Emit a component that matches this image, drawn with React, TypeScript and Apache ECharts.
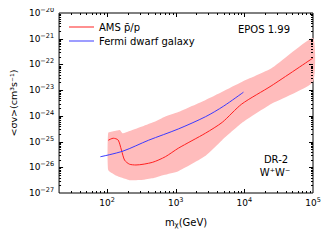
import React, { useEffect, useRef } from "react";
import * as echarts from "echarts";

// AMS pbar/p limit (red line)
const amsMass = [104, 123, 145, 162, 180, 212, 264, 455, 706, 1090, 2730, 4770, 9160, 24500, 100000];
const amsSigma = [1.12e-25, 1.35e-25, 1.15e-25, 4.68e-26, 1.9e-26, 1.32e-26, 1.23e-26, 1.55e-26, 2.57e-26, 5.5e-26, 2.14e-25, 5.62e-25, 2.88e-24, 1.45e-23, 1.78e-22];

// Fermi dwarf galaxy limit (blue line)
const fermiMass = [80, 171, 400, 1090, 2730, 5000, 9700];
const fermiSigma = [2.57e-26, 4.27e-26, 1.12e-25, 3.09e-25, 9.33e-25, 2.4e-24, 8.32e-24];

// AMS uncertainty band
const bandMass = [104, 130, 153, 169, 212, 347, 480, 670, 1090, 2730, 4770, 9160, 24500, 100000];
const bandUpper = [2.19e-25, 2.57e-25, 2.82e-25, 2.09e-25, 2.57e-25, 4.17e-25, 5.75e-25, 8.91e-25, 1.41e-24, 4.17e-24, 8.71e-24, 2.09e-23, 6.92e-23, 1.07e-21];
const bandLower = [7.76e-27, 5.01e-27, 4.17e-27, 3.8e-27, 3.16e-27, 3.31e-27, 3.8e-27, 5.01e-27, 7.08e-27, 2.82e-26, 1.15e-25, 5.25e-25, 2.88e-24, 2.09e-23];

const xMin = 20;
const xMax = 1e5;
// y axis range exponents (10^-27 .. 10^-20)
const yExpMin = -27;
const yExpMax = -20;
const xDecades = [1, 2, 3, 4];

const FONT = "DejaVu Sans";
// the chart works on values scaled by 10^27 to avoid rounding of tiny numbers
const Y_SCALE = 1e27;
const sy = (v: number) => v * Y_SCALE;

function expLabel(v: number, offset: number) {
  const e = Math.log10(v);
  const r = Math.round(e);
  if (Math.abs(e - r) > 1e-6) return "";
  return `{b|10}{s|${String(r + offset).replace("-", "\u2212")}}`;
}

const richSup = {
  b: { fontSize: 9, fontFamily: FONT, color: "#000", lineHeight: 14 },
  s: { fontSize: 6.5, fontFamily: FONT, color: "#000", padding: [0, 0, 6, 0], lineHeight: 8 },
};

export default function App() {
  const ref = useRef<HTMLDivElement>(null);
  useEffect(() => {
    if (!ref.current) return;
    const chart = echarts.init(ref.current, undefined, { renderer: "svg" });

    const yMin = sy(Math.pow(10, yExpMin));
    const yMax = sy(Math.pow(10, yExpMax));

    const majorX: number[] = [];
    const minorX: number[] = [];
    xDecades.forEach((d) => {
      const base = Math.pow(10, d);
      if (d > 1) majorX.push(base);
      for (let k = 2; k <= 9; k++) {
        const v = k * base;
        if (v > xMin && v < xMax) minorX.push(v);
      }
    });
    const majorY: number[] = [];
    const minorY: number[] = [];
    for (let d = 0; d < yExpMax - yExpMin; d++) {
      const base = Math.pow(10, d);
      if (d > 0) majorY.push(base);
      for (let k = 2; k <= 9; k++) minorY.push(k * base);
    }

    const option: any = {
      animation: false,
      textStyle: { fontFamily: FONT },
      grid: {
        left: 53,
        right: 19,
        top: 13,
        bottom: 49,
        containLabel: false,
        show: true,
        borderColor: "#000",
        borderWidth: 1,
        backgroundColor: "transparent",
      },
      legend: {
        orient: "vertical",
        left: 64,
        top: 17,
        itemWidth: 25,
        itemHeight: 10,
        itemGap: 4,
        data: [
          { name: "AMS p\u0304/p", icon: "path://M0,4.5L25,4.5L25,5.5L0,5.5Z" },
          { name: "Fermi dwarf galaxy", icon: "path://M0,4.5L25,4.5L25,5.5L0,5.5Z" },
        ],
        textStyle: { fontSize: 10, fontFamily: FONT, color: "#000" },
      },
      xAxis: {
        type: "log",
        logBase: 10,
        min: xMin,
        max: xMax,
        splitLine: { show: false },
        axisLine: { show: false },
        axisTick: { show: false },
        name: "{m|m}{c|\u03c7}{m|(GeV)}",
        nameLocation: "middle",
        nameGap: 22,
        nameTextStyle: {
          rich: {
            m: { fontSize: 10, fontFamily: FONT, color: "#000", lineHeight: 14 },
            c: { fontSize: 7, fontFamily: FONT, color: "#000", padding: [5, 0, 0, 0], lineHeight: 8 },
          },
        },
        axisLabel: {
          interval: 0,
          showMinLabel: true,
          showMaxLabel: true,
          margin: 3,
          formatter: (v: number) => expLabel(v, 0),
          rich: richSup,
        },
      },
      yAxis: {
        type: "log",
        logBase: 10,
        min: yMin,
        max: yMax,
        splitLine: { show: false },
        axisLine: { show: false },
        axisTick: { show: false },
        name: "<\u03c3v>(cm\u00b3s\u207b\u00b9)",
        nameLocation: "middle",
        nameGap: 38,
        nameTextStyle: { fontSize: 9.5, fontFamily: FONT, color: "#000" },
        axisLabel: {
          interval: 0,
          showMinLabel: true,
          showMaxLabel: true,
          margin: 5,
          formatter: (v: number) => expLabel(v, yExpMin),
          rich: richSup,
        },
      },
      series: [
        {
          type: "custom",
          silent: true,
          z: 1,
          data: bandMass.map((m, i) => [m, sy(bandUpper[i])]),
          renderItem: (params: any, api: any) => {
            if (params.dataIndex !== 0) return null;
            const pts: number[][] = [];
            for (let i = 0; i < bandMass.length; i++) pts.push(api.coord([bandMass[i], sy(bandUpper[i])]));
            for (let i = bandMass.length - 1; i >= 0; i--) pts.push(api.coord([bandMass[i], sy(bandLower[i])]));
            return { type: "polygon", shape: { points: pts, smooth: 0.15 }, style: { fill: "#ffbcbc", stroke: "none" } };
          },
        },
        {
          name: "AMS p\u0304/p",
          type: "line",
          z: 3,
          symbol: "none",
          smooth: 0.25,
          lineStyle: { color: "#ff2020", width: 1 },
          itemStyle: { color: "#ff2020" },
          data: amsMass.map((m, i) => [m, sy(amsSigma[i])]),
        },
        {
          name: "Fermi dwarf galaxy",
          type: "line",
          z: 3,
          symbol: "none",
          smooth: 0.3,
          lineStyle: { color: "#3a3aff", width: 1 },
          itemStyle: { color: "#3a3aff" },
          data: fermiMass.map((m, i) => [m, sy(fermiSigma[i])]),
        },
        {
          type: "custom",
          silent: true,
          z: 5,
          data: [[100, 10]],
          renderItem: (params: any, api: any) => {
            const children: any[] = [];
            const st = { stroke: "#000", lineWidth: 1 };
            const add = (x1: number, y1: number, x2: number, y2: number) =>
              children.push({ type: "line", shape: { x1, y1, x2, y2 }, style: st });
            const yb = api.coord([xMin, yMin])[1];
            const yt = api.coord([xMin, yMax])[1];
            const xl = api.coord([xMin, yMin])[0];
            const xr = api.coord([xMax, yMin])[0];
            const vx = (v: number, len: number) => {
              const px = Math.round(api.coord([v, yMin])[0]) + 0.5;
              add(px, yb, px, yb - len);
              add(px, yt, px, yt + len);
            };
            const vy = (v: number, len: number) => {
              const py = Math.round(api.coord([xMin, v])[1]) + 0.5;
              add(xl, py, xl + len, py);
              add(xr, py, xr - len, py);
            };
            majorX.forEach((v) => vx(v, 4));
            minorX.forEach((v) => vx(v, 2));
            majorY.forEach((v) => vy(v, 4));
            minorY.forEach((v) => vy(v, 2));
            return { type: "group", children };
          },
        },
      ],
      graphic: [
        {
          type: "text",
          left: 238,
          top: 24,
          style: { text: "EPOS 1.99", fontSize: 10, fontFamily: FONT, fill: "#000" },
        },
        {
          type: "text",
          x: 276,
          y: 159,
          style: { text: "DR-2", fontSize: 10, fontFamily: FONT, fill: "#000", align: "center", verticalAlign: "middle" },
        },
        {
          type: "text",
          x: 275,
          y: 172,
          style: { text: "W\u207aW\u207b", fontSize: 10, fontFamily: FONT, fill: "#000", align: "center", verticalAlign: "middle" },
        },
      ],
    };
    chart.setOption(option);
    return () => chart.dispose();
  }, []);
  return <div ref={ref} style={{ width: 332, height: 242, margin: -8 }} />;
}
